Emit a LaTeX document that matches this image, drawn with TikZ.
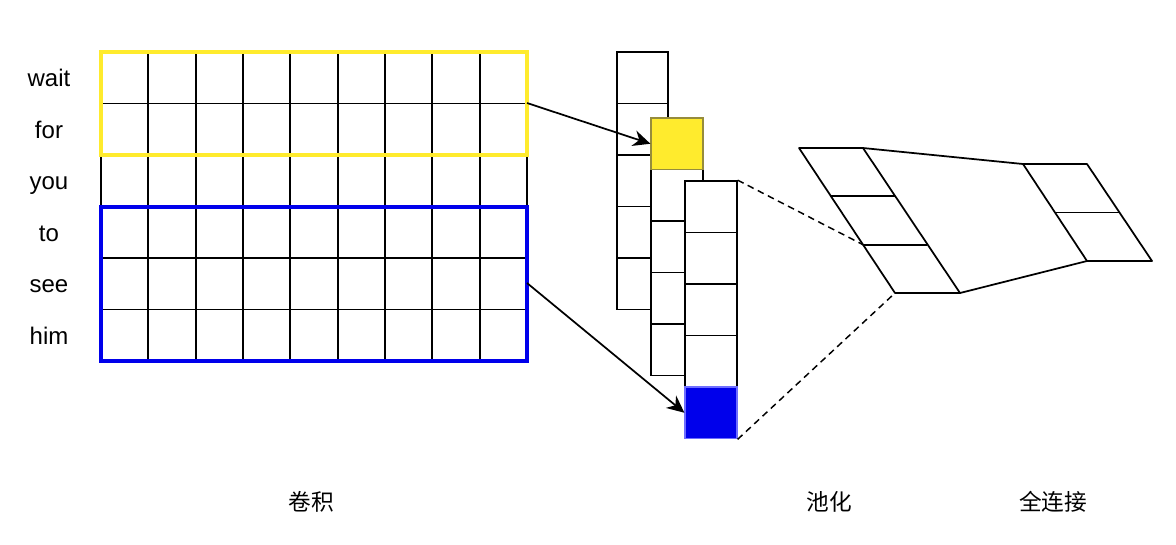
\documentclass[tikz,border=0pt]{standalone}
\usepackage{fontspec}
\setmainfont{Liberation Sans}
\newfontfamily\cjk{Noto Sans CJK SC}
\usetikzlibrary{arrows.meta}
\definecolor{winyellow}{RGB}{255,235,45}
\definecolor{winblue}{RGB}{0,0,235}
\tikzset{
  word/.style={font=\fontsize{18}{21}\selectfont, inner sep=0pt, anchor=base},
  stage/.style={font=\fontsize{17}{20}\selectfont, inner sep=0pt},
  gridline/.style={draw=black, line width=1.3pt},
  window/.style={line width=3.2pt},
  fcell/.style={draw=black, fill=white, line width=1.3pt, minimum width=38.6pt, minimum height=38.6pt, inner sep=0pt},
  link/.style={-{Stealth[length=13pt,width=12pt]}, line width=1.3pt},
  proj/.style={dashed, dash pattern=on 5pt off 3.5pt, line width=1.1pt},
  slab/.style={draw=black, line width=1.3pt, line join=round},
}
\begin{document}
\begin{tikzpicture}[x=0.75pt,y=0.75pt,yscale=-1,xscale=1]
        \useasboundingbox (0,0) rectangle (1176,544);
        % Input grid
        \foreach \i in {0,...,9}
          \draw[gridline] ({101+\i*47.33},52) -- ({101+\i*47.33},361);
        \foreach \j in {0,...,6}
          \draw[gridline] (101,{52+\j*51.5}) -- (527,{52+\j*51.5});
        % Windows
        \draw[window, draw=winyellow] (101,52) rectangle (527,155);
        \draw[window, draw=winblue] (101,207) rectangle (527,361);
        % Words
        \foreach \w [count=\k] in {wait,for,you,to,see,him}
          \node[word] (w\k) at (49,{34.9+\k*51.6}) {\w};
        % Feature map 1
        \foreach \k in {0,...,4}
          \node[fcell] (a\k) at (642.5,{77.75+\k*51.5}) {};
        % Feature map 2
        \foreach \k in {1,...,4}
          \node[fcell] (b\k) at (677,{143.75+\k*51.5}) {};
        \node[fcell, fill=winyellow, draw={rgb,255:red,150;green,140;blue,60}] (ycell) at (677,143.75) {};
        % Feature map 3
        \foreach \k in {0,...,3}
          \node[fcell] (c\k) at (711,{206.75+\k*51.5}) {};
        \node[fcell, fill=winblue, draw={rgb,255:red,110;green,110;blue,255}] (bcell) at (711,412.75) {};
        % Connection
        \coordinate (yout) at (527,103);
        \coordinate (bout) at (527,283);
        \draw[link] (yout) -- (ycell.west);
        \draw[link] (bout) -- (bcell.west);
        % Pooling slab
        \coordinate (p1) at (799,148);
        \coordinate (p2) at (863,148);
        \coordinate (p3) at (960,293);
        \coordinate (p4) at (895,293);
        \coordinate (pm1l) at (831,196.3);
        \coordinate (pm1r) at (895,196.3);
        \coordinate (pm2l) at (863,244.7);
        \coordinate (pm2r) at (927,244.7);
        \draw[slab] (p1) -- (p2) -- (p3) -- (p4) -- cycle;
        \draw[slab] (pm1l) -- (pm1r);
        \draw[slab] (pm2l) -- (pm2r);
        % Projection
        \draw[proj] (c0.north east) -- (pm2l);
        \draw[proj] (bcell.south east) -- (p4);
        % Fully connected slab
        \coordinate (f1) at (1023,164);
        \coordinate (f2) at (1087,164);
        \coordinate (f3) at (1152,261);
        \coordinate (f4) at (1087,261);
        \coordinate (fml) at (1055,212.5);
        \coordinate (fmr) at (1119,212.5);
        \draw[slab] (f1) -- (f2) -- (f3) -- (f4) -- cycle;
        \draw[slab] (fml) -- (fmr);
        % Connection
        \draw[slab] (p2) -- (f1);
        \draw[slab] (p3) -- (f4);
        % Text Node
        \node[stage] (conv) at (311,502) {\cjk 卷积};
        \node[stage] (pool) at (829,502) {\cjk 池化};
        \node[stage] (fc) at (1053,502) {\cjk 全连接};
\end{tikzpicture}
\end{document}
